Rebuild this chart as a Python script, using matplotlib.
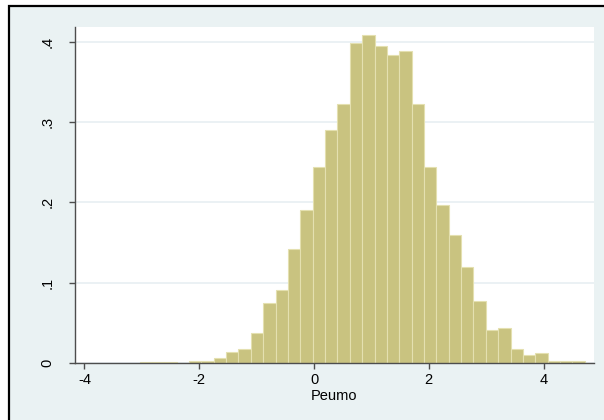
import numpy as np
import matplotlib
matplotlib.use('Agg')
import matplotlib.pyplot as plt
from matplotlib.patches import Rectangle

plt.rcParams['font.family'] = ['Liberation Sans', 'DejaVu Sans']

# histogram of Peumo: 36 equal-width bins starting at the sample minimum
bin_start = -3.04
bin_width = 0.2155
density = [
    0.001, 0.001, 0.001, 0.0, 0.002, 0.002, 0.006, 0.014, 0.017, 0.037,
    0.075, 0.091, 0.142, 0.191, 0.244, 0.290, 0.323, 0.399, 0.408, 0.395,
    0.383, 0.388, 0.322, 0.244, 0.197, 0.159, 0.120, 0.077, 0.041, 0.044,
    0.018, 0.010, 0.013, 0.002, 0.002, 0.003,
]
x_ticks = [-4, -2, 0, 2, 4]
x_labels = ['-4', '-2', '0', '2', '4']
y_ticks = [0, 0.1, 0.2, 0.3, 0.4]
y_labels = ['0', '.1', '.2', '.3', '.4']

W, H = 604, 420
fig = plt.figure(figsize=(W / 100, H / 100), dpi=100)
fig.patch.set_facecolor('white')

# graph region with its black frame, kept behind the axes
fig.patches.append(Rectangle((9.3 / W, -0.05), 1.1, 1 - 6 / H + 0.05,
                             transform=fig.transFigure, facecolor='#EAF2F3',
                             edgecolor='black', linewidth=1.6, zorder=-10))

ax = fig.add_axes([74.7 / W, 1 - 363 / H, (593.7 - 74.7) / W, (363 - 26.7) / H])
ax.set_facecolor('white')

edges = bin_start + bin_width * np.arange(len(density))
ax.bar(edges, density, width=bin_width, align='edge',
       color='#C9C380', edgecolor='#E4E0B0', linewidth=0.8, zorder=2)

ax.set_xlim(-4.17, 4.873)
ax.set_ylim(0, 0.4188)

ax.set_yticks(y_ticks)
ax.set_yticklabels(y_labels, rotation=90, va='center')
ax.set_xticks(x_ticks)
ax.set_xticklabels(x_labels)
ax.tick_params(axis='y', length=4.3, width=1, color='#4d4d4d', pad=10.5, labelsize=10.5)
ax.tick_params(axis='x', length=4.3, width=1, color='#4d4d4d', pad=3.2, labelsize=10.5)

ax.grid(axis='y', color='#E6EEF1', linewidth=1.1, zorder=1)
ax.set_axisbelow(True)

for side in ['top', 'right']:
    ax.spines[side].set_visible(False)
for side in ['left', 'bottom']:
    ax.spines[side].set_color('#4d4d4d')
    ax.spines[side].set_linewidth(1)
    ax.spines[side].set_zorder(3)

ax.set_xlabel('Peumo', fontsize=10.5, labelpad=1.5)

fig.savefig('out.png', dpi=100, facecolor=fig.get_facecolor())
